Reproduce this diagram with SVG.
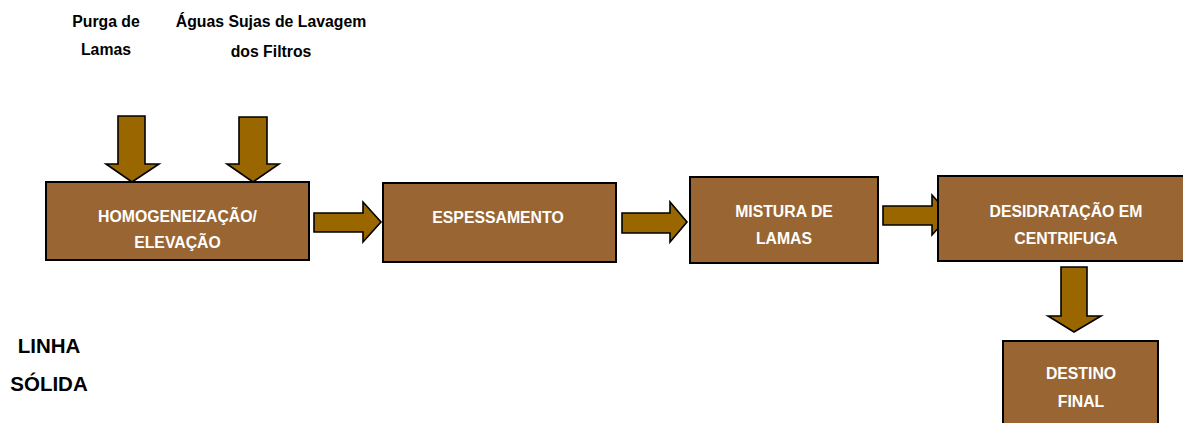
<svg xmlns="http://www.w3.org/2000/svg" width="1183" height="423" viewBox="0 0 1183 423">
<style>
.box{fill:#996633;stroke:#000;stroke-width:2}
.arr{fill:#996600;stroke:#000;stroke-width:1.6;stroke-linejoin:miter}
.bt{font-family:"Liberation Sans",Arial,sans-serif;font-weight:bold;font-size:15.8px;fill:#fff;text-anchor:middle}
.lt{font-family:"Liberation Sans",Arial,sans-serif;font-weight:bold;font-size:15.8px;fill:#000;text-anchor:middle}
.st{font-family:"Liberation Sans",Arial,sans-serif;font-weight:bold;font-size:20.5px;fill:#000;text-anchor:middle}
</style>
<rect width="1183" height="423" fill="#fff"/>
<g id="label-purga">
<text class="lt" x="106" y="27">Purga de</text>
<text class="lt" x="106" y="55">Lamas</text>
</g>
<g id="label-aguas">
<text class="lt" x="271" y="27">Águas Sujas de Lavagem</text>
<text class="lt" x="271" y="57">dos Filtros</text>
</g>
<g id="label-linha">
<text class="st" x="49" y="353">LINHA</text>
<text class="st" x="49" y="391">SÓLIDA</text>
</g>
<g id="connectors">
<polygon class="arr" points="118,116 145,116 145,164 159,164 132,182 106,164 118,164"/>
<polygon class="arr" points="239,117 267,117 267,164 279,164 253,182 227,164 239,164"/>
<polygon class="arr" points="314,213 363,213 363,202 381,222 363,242 363,232 314,232"/>
<polygon class="arr" points="622,213 670,213 670,202 687,222 670,242 670,233 622,233"/>
<polygon class="arr" points="883,206 932,206 932,195 950,215 932,235 932,225 883,225"/>
<polygon class="arr" points="1061,267 1087,267 1087,316 1101,316 1074,332 1048,316 1061,316"/>
</g>
<g id="node-homogeneizacao">
<rect class="box" x="46" y="182" width="263" height="78"/>
<text class="bt" x="177.5" y="222">HOMOGENEIZAÇÃO/</text>
<text class="bt" x="177.5" y="248">ELEVAÇÃO</text>
</g>
<g id="node-espessamento">
<rect class="box" x="383" y="183" width="233" height="79"/>
<text class="bt" x="498" y="223">ESPESSAMENTO</text>
</g>
<g id="node-mistura">
<rect class="box" x="690" y="177" width="188" height="86"/>
<text class="bt" x="784" y="217">MISTURA DE</text>
<text class="bt" x="784" y="244">LAMAS</text>
</g>
<g id="node-desidratacao">
<rect class="box" x="938" y="176" width="256" height="85"/>
<text class="bt" x="1066" y="217">DESIDRATAÇÃO EM</text>
<text class="bt" x="1066" y="244">CENTRIFUGA</text>
</g>
<g id="node-destino">
<rect class="box" x="1003" y="341" width="155" height="100"/>
<text class="bt" x="1081" y="379">DESTINO</text>
<text class="bt" x="1081" y="407">FINAL</text>
</g>
</svg>
